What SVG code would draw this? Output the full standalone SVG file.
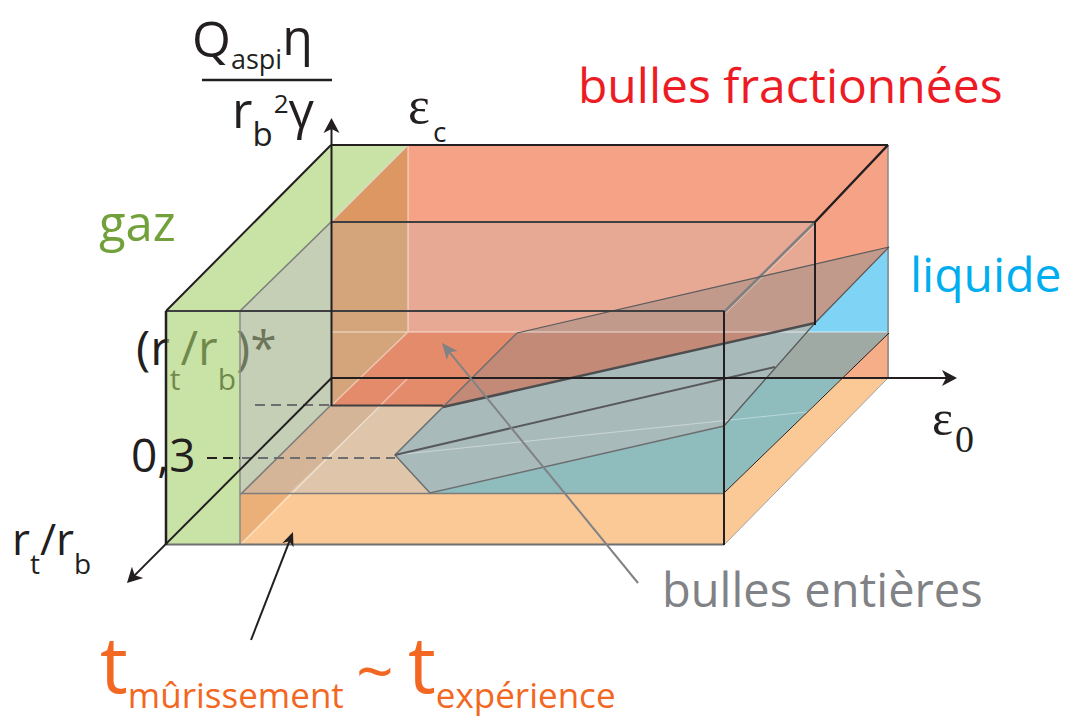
<svg xmlns="http://www.w3.org/2000/svg" width="1072" height="718" viewBox="0 0 1072 718">
<defs>
<style>
text{font-family:"Open Sans","Noto Sans","Liberation Sans",sans-serif;}
.serif{font-family:"Liberation Serif","DejaVu Serif",serif;}
.k{fill:#231f20}
.dk{stroke:#231f20;fill:none}
.gy{stroke:#6d6e70;fill:none}
.lt{stroke:#ffffff;stroke-opacity:.45;fill:none}
.dash{stroke-dasharray:10 6;stroke-width:2;fill:none}
</style>
<marker id="ah" markerUnits="userSpaceOnUse" orient="auto" overflow="visible" refX="0" refY="0" markerWidth="20" markerHeight="20"><path d="M3,0 L-12,-8 L-8,0 L-12,8 Z" fill="#231f20"/></marker>
<marker id="ahs" markerUnits="userSpaceOnUse" orient="auto" overflow="visible" refX="0" refY="0" markerWidth="20" markerHeight="20"><path d="M3,0 L-11,-6 L-7,0 L-11,6 Z" fill="#231f20"/></marker>
<marker id="ahg" markerUnits="userSpaceOnUse" orient="auto" overflow="visible" refX="0" refY="0" markerWidth="20" markerHeight="20"><path d="M3,0 L-13,-7 L-9,0 L-13,7 Z" fill="#808285"/></marker>
</defs>
<rect width="1072" height="718" fill="#ffffff"/>

<g id="regions">
<polygon points="331,145 888,145 888,378 331,378" fill="#f6a286"/>
<polygon points="331,222 815,222 815,332 331,332" fill="#e8a994"/>
<polygon points="408,145 408,222 331,222" fill="#dc9762"/>
<polygon points="331,332 888,332 888,378 443,407 331,406" fill="#e48b6b"/>
<polygon points="331,222 408,222 408,332 331,406" fill="#d4a57b"/>
<polygon points="331,405 443,407 395,455 430,493 240,494" fill="#dfc5a9"/>
<polygon points="331,405 381,405 288,494 240,494" fill="#d5b597"/>
<polygon points="517,333 889,247 815,323 443,407" fill="#c19a8b"/>
<polygon points="518,332 775,332 443,407" fill="#c38b77"/>
<polygon points="443,407 815,323 724,426 430,493 395,455" fill="#a9babb"/>
<polygon points="430,493 724,426 766,378 842,378 724,493" fill="#8fbcbd"/>
<polygon points="807,332 889,332 889,333 842,378 766,378" fill="#9faaa5"/>
<polygon points="889,248 889,332 807,332 815,323" fill="#7fd3f5"/>
<polygon points="889,333 889,378 842,378" fill="#f5ae88"/>
<polygon points="842,378 888,378 724,545 724,493" fill="#fbc995"/>
<polygon points="240,493 724,493 724,545 240,545" fill="#fbc995"/>
<polygon points="240,494 289,494 240,545" fill="#ebb078"/>
<polygon points="166,311 331,145 408,145 331,222 240,311" fill="#c9e2a6"/>
</g>

<g id="label-rt-star">
<text x="136" y="365" font-size="48" class="k">(r<tspan font-size="30" dy="25">t</tspan><tspan dy="-25">/r</tspan><tspan font-size="30" dy="25">b</tspan><tspan dy="-25">)*</tspan></text>
</g>

<g id="gaz-slab">
<polygon points="166,311 240,311 240,545 166,545" fill="rgb(165,207,107)" fill-opacity="0.6"/>
<polygon points="240,311 331,222 331,405 240,495" fill="rgb(158,175,132)" fill-opacity="0.6"/>
</g>

<g id="edges">
<path class="lt" stroke-width="1.5" d="M408,145V332 M331,332H889 M408,332L331,406 M408,378L240,545"/>
<path stroke="#e0d6c8" stroke-width="1.2" fill="none" d="M408,145L331,222"/>
<path stroke="#ffffff" stroke-opacity="0.4" stroke-width="1" fill="none" d="M395,455L807,412"/>
<path stroke="#7d7d7d" stroke-width="1.5" fill="none" d="M331,222L240,311 M331,405L240,495 M240,493.5H724"/>
<path stroke="#8a8a8a" stroke-width="1.5" fill="none" d="M240,311V545 M888,145V378"/>
<path stroke="#a0a0a0" stroke-width="1" fill="none" d="M724,545L888,378"/>
<path class="gy" stroke-width="2" d="M166,544.5H724"/>
<path stroke="#808080" stroke-width="2.5" fill="none" d="M815,222L724,312"/>
<path stroke="#ffffff" stroke-opacity="0.5" stroke-width="0.8" fill="none" d="M816,224L726,313"/>
<path stroke="#58595b" stroke-width="1.2" fill="none" d="M517,333L889,247 M889,247L815,323L724,426"/>
<path class="gy" stroke-width="1.5" d="M517,333L395,455L430,493L724,426"/>
<path stroke="#58595b" stroke-width="2" fill="none" d="M395,455L775,367"/>
<path stroke="#4d4d4f" stroke-width="2.5" fill="none" d="M443,407L815,323"/>
<path stroke="#414042" stroke-width="2" fill="none" d="M331,405.5H443"/>
<path class="dk" stroke-width="1" d="M724,493L889,333"/>
<path stroke="#3f3f41" stroke-width="2" fill="none" d="M331,222H815 M166,311H724"/>
<path class="dk" stroke-width="2" d="M815,222V325 M724,311V545 M331,145H888 M166,311L331,145"/>
<path class="dk" stroke-width="2.5" d="M888,145L815,222 M166,311V545"/>
<path class="dash" stroke="#231f20" d="M207,458H240"/>
<path class="dash" stroke="#6d6e70" d="M242,458H395"/>
<path class="dash" stroke="#6d6e70" stroke-dasharray="11 8" d="M255,405H331"/>
</g>

<g id="axes">
<path class="dk" stroke-width="2" d="M331.5,406V121" marker-end="url(#ah)"/>
<path class="dk" stroke-width="2" d="M331,378H954" marker-end="url(#ah)"/>
<path class="dk" stroke-width="2" d="M331.5,378L129.1,580.9" marker-end="url(#ah)"/>
</g>

<g id="pointers">
<path stroke="#808285" stroke-width="2" fill="none" d="M638,583L443.9,345.3" marker-end="url(#ahg)"/>
<path class="dk" stroke-width="2" d="M251,640L291.9,534.8" marker-end="url(#ahs)"/>
</g>

<g id="label-yaxis">
<text x="192" y="57" font-size="50" class="k">Q<tspan font-size="27" dy="12">aspi</tspan><tspan font-size="50" dy="-14">η</tspan></text>
<path d="M202,80H332" stroke="#231f20" stroke-width="2.5"/>
<text x="232" y="128" font-size="50" class="k">r<tspan font-size="33" dy="18">b</tspan><tspan font-size="26" dy="-33" dx="1">2</tspan><tspan dy="15">γ</tspan></text>
</g>
<g id="label-epsc">
<text x="408" y="123" font-size="52" class="k serif">ε</text>
<text x="433" y="142" font-size="28" class="k">c</text>
</g>
<g id="label-eps0">
<text x="932" y="435" font-size="50" class="k serif">ε</text>
<text x="955" y="452" font-size="38" class="k serif">0</text>
</g>
<g id="label-rt">
<text x="12" y="555" font-size="44" class="k">r<tspan font-size="28" dy="19">t</tspan><tspan dy="-19">/r</tspan><tspan font-size="28" dy="19">b</tspan></text>
</g>
<g id="label-03">
<text x="131" y="472" font-size="46" class="k">0,3</text>
</g>
<g id="label-fractionnees">
<text x="578" y="103" font-size="48" fill="#ed1c24">bulles fractionnées</text>
</g>
<g id="label-gaz">
<text x="99" y="241" font-size="49" fill="#72a13c">gaz</text>
</g>
<g id="label-liquide">
<text x="910" y="292" font-size="48" fill="#00aeef">liquide</text>
</g>
<g id="label-entieres">
<text x="662" y="607" font-size="47" fill="#808285">bulles entières</text>
</g>
<g id="label-temps" fill="#f26722">
<text x="100" y="693" font-size="78">t<tspan font-size="35" dy="15">mûrissement</tspan></text>
<text x="356" y="695" font-size="66">~</text>
<text x="408" y="693" font-size="78">t<tspan font-size="35" dy="15">expérience</tspan></text>
</g>
</svg>
